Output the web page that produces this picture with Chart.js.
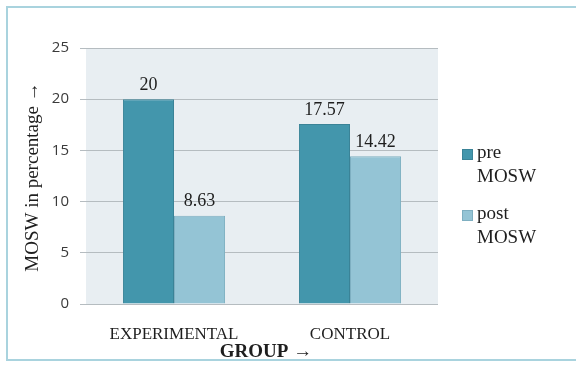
<!DOCTYPE html>
<html>
<head>
  <meta charset="utf-8"/>
  <script src="https://cdn.jsdelivr.net/npm/chart.js"></script>
  <style>
    body { margin: 0; background: #ffffff; }
    #wrap { position: relative; width: 576px; height: 365px; overflow: hidden; }
    #frame { position: absolute; left: 6px; top: 6px; width: 600px; height: 355px;
             border: 2px solid #a9d3de; box-sizing: border-box; }
    canvas { position: absolute; left: 0; top: 0; }
  </style>
</head>
<body>
<div id="wrap">
  <div id="frame"></div>
  <canvas id="myChart" width="576" height="365"></canvas>
</div>
<script>
  // groups and MOSW percentages
  const groups = ["EXPERIMENTAL", "CONTROL"];
  const preMOSW = [20, 17.57];
  const postMOSW = [8.63, 14.42];
  const seriesNames = [["pre", "MOSW"], ["post", "MOSW"]];
  const yTicks = [0, 5, 10, 15, 20, 25];

  const serif = "'Liberation Serif', 'Times New Roman', serif";
  const sans = "'Open Sans', Arial, sans-serif";

  // plot background, value labels, axis titles and legend
  const extras = {
    id: "extras",
    beforeDraw(chart) {
      const { ctx, chartArea: a } = chart;
      ctx.save();
      ctx.fillStyle = "#e8eef2";
      ctx.fillRect(a.left, a.top, a.right - a.left, a.bottom - a.top);
      ctx.restore();
    },
    afterDatasetsDraw(chart) {
      const ctx = chart.ctx;
      ctx.save();
      ctx.fillStyle = "#1e1e1e";
      ctx.font = "18px " + serif;
      ctx.textAlign = "center";
      ctx.textBaseline = "bottom";
      chart.data.datasets.forEach((ds, i) => {
        chart.getDatasetMeta(i).data.forEach((bar, j) => {
          ctx.fillText(String(ds.data[j]), bar.x, bar.y - 5);
        });
      });

      // axis titles
      const a = chart.chartArea;
      ctx.textBaseline = "middle";
      ctx.font = "bold 19px " + serif;
      ctx.fillText("GROUP \u2192", (a.left + a.right) / 2 + 4, 352);
      ctx.translate(33, 177);
      ctx.rotate(-Math.PI / 2);
      ctx.font = "19px " + serif;
      ctx.fillText("MOSW in percentage \u2192", 0, 0);
      ctx.setTransform(1, 0, 0, 1, 0, 0);

      // legend
      ctx.textAlign = "left";
      const rows = [155, 216];
      chart.data.datasets.forEach((ds, i) => {
        const y = rows[i];
        ctx.fillStyle = ds.backgroundColor;
        ctx.fillRect(462, y - 6, 11, 11);
        ctx.strokeStyle = ds.borderColor;
        ctx.lineWidth = 1;
        ctx.strokeRect(462.5, y - 5.5, 10, 10);
        ctx.fillStyle = "#1e1e1e";
        ctx.font = "19px " + serif;
        ctx.fillText(seriesNames[i][0], 477, y - 2);
        ctx.fillText(seriesNames[i][1], 477, y + 22);
      });
      ctx.restore();
    }
  };

  const ctx = document.getElementById("myChart").getContext("2d");
  new Chart(ctx, {
    type: "bar",
    data: {
      labels: groups,
      datasets: [
        {
          label: "pre MOSW",
          data: preMOSW,
          backgroundColor: "#4396ac",
          borderColor: "#3a8397",
          borderWidth: 1,
          borderSkipped: "bottom"
        },
        {
          label: "post MOSW",
          data: postMOSW,
          backgroundColor: "#94c4d5",
          borderColor: "#7eafc1",
          borderWidth: 1,
          borderSkipped: "bottom"
        }
      ]
    },
    options: {
      responsive: false,
      animation: false,
      layout: { padding: { top: 48, right: 138, left: 0, bottom: 0 } },
      categoryPercentage: 0.58,
      barPercentage: 1,
      plugins: { legend: { display: false }, tooltip: { enabled: false } },
      scales: {
        x: {
          grid: { display: false },
          border: { display: false },
          ticks: { color: "#1e1e1e", font: { family: serif, size: 17 }, padding: 12 },
          afterFit(scale) { scale.height = 61; }
        },
        y: {
          min: 0,
          max: 25,
          afterBuildTicks(scale) { scale.ticks = yTicks.map(v => ({ value: v })); },
          grid: { color: "#b5bcc0", tickLength: 6, lineWidth: 1 },
          border: { display: false },
          ticks: { color: "#3a3a3a", font: { family: sans, size: 15 }, padding: 11 },
          afterFit(scale) { scale.width = 86; }
        }
      }
    },
    plugins: [extras]
  });
</script>
</body>
</html>
